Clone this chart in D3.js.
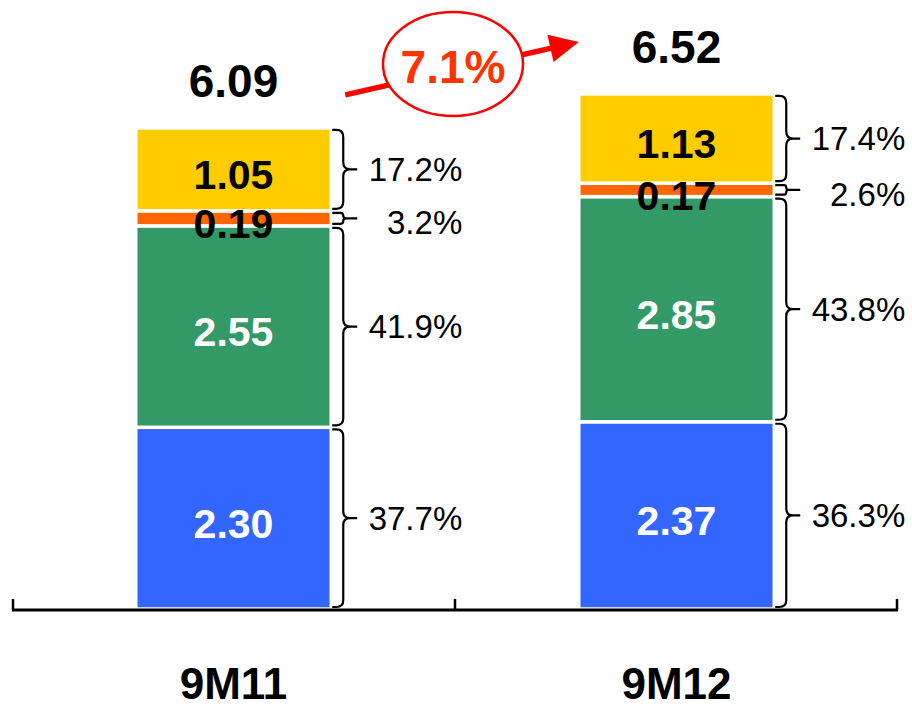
<!DOCTYPE html>
<html>
<head>
<meta charset="utf-8">
<script src="https://cdn.jsdelivr.net/npm/d3@7"></script>
<style>
  html, body { margin: 0; padding: 0; background: #fff; }
  svg { display: block; font-family: "Liberation Sans", Arial, sans-serif; }
</style>
</head>
<body>
<svg id="chart" width="912" height="709"></svg>
<script>
// ---- data ----
const categories = ["9M11", "9M12"];
const seriesNames = ["s1", "s2", "s3", "s4"]; // bottom -> top
const blueValues   = [2.30, 2.37];
const greenValues  = [2.55, 2.85];
const orangeValues = [0.19, 0.17];
const yellowValues = [1.05, 1.13];
const totals = [6.09, 6.52];
const bluePct   = ["37.7%", "36.3%"];
const greenPct  = ["41.9%", "43.8%"];
const orangePct = ["3.2%", "2.6%"];
const yellowPct = ["17.2%", "17.4%"];
const growthLabel = "7.1%";

const colors = ["#3366FF", "#339966", "#FF6600", "#FFCC00"];
const textColors = ["#fff", "#fff", "#000", "#000"];

const seriesValues = [blueValues, greenValues, orangeValues, yellowValues];
const seriesPct = [bluePct, greenPct, orangePct, yellowPct];

const table = categories.map((c, i) => {
  const row = { cat: c };
  seriesNames.forEach((s, k) => row[s] = seriesValues[k][i]);
  return row;
});
const stack = d3.stack().keys(seriesNames)(table);

const svg = d3.select("#chart");
const x = d3.scaleBand().domain(categories).range([12, 898]).padding(0);
const barW = x.bandwidth() * 0.4413;
const barX = c => x(c) + (x.bandwidth() - barW) / 2;
const y = d3.scaleLinear().domain([0, 609 / 79]).range([609, 0]);

// bars
stack.forEach((layer, k) => {
  svg.append("g").selectAll("rect").data(layer).join("rect")
    .attr("x", d => barX(d.data.cat))
    .attr("width", barW)
    .attr("y", d => y(d[1]))
    .attr("height", d => y(d[0]) - y(d[1]))
    .attr("fill", colors[k])
    .attr("stroke", "#fff")
    .attr("stroke-width", 3.5);
});

// braces + percentage labels
function bracePath(x0, y0, y1) {
  const xv = x0 + 11, xt = x0 + 25, ym = (y0 + y1) / 2;
  const r = Math.min(7, (y1 - y0) / 4);
  return `M${x0},${y0} L${xv - r},${y0} Q${xv},${y0} ${xv},${y0 + r} ` +
         `L${xv},${ym - r} Q${xv},${ym} ${xv + r},${ym} L${xt},${ym} ` +
         `M${xv + r},${ym} Q${xv},${ym} ${xv},${ym + r} ` +
         `L${xv},${y1 - r} Q${xv},${y1} ${xv - r},${y1} L${x0},${y1}`;
}
stack.forEach((layer, k) => {
  layer.forEach((d, i) => {
    const right = barX(d.data.cat) + barW;
    const top = y(d[1]) + 2, bot = y(d[0]) - 2;
    svg.append("path")
      .attr("d", bracePath(right + 1, top, bot))
      .attr("fill", "none").attr("stroke", "#000").attr("stroke-width", 2.2);
    const mid = (top + bot) / 2 + ((bot - top) < 25 ? 4 : 0);
    svg.append("text")
      .attr("x", right + 131).attr("y", mid + 11.8)
      .attr("text-anchor", "end")
      .attr("font-size", 33)
      .attr("fill", "#000")
      .text(seriesPct[k][i]);
  });
});

// value labels inside bars
stack.forEach((layer, k) => {
  svg.append("g").selectAll("text").data(layer).join("text")
    .attr("x", d => x(d.data.cat) + x.bandwidth() / 2)
    .attr("y", d => (y(d[0]) + y(d[1])) / 2 + 19.7)
    .attr("text-anchor", "middle")
    .attr("font-size", 41).attr("font-weight", "bold")
    .attr("fill", textColors[k])
    .text(d => d3.format(".2f")(d[1] - d[0]));
});

// totals
svg.append("g").selectAll("text").data(categories).join("text")
  .attr("x", c => x(c) + x.bandwidth() / 2)
  .attr("y", (c, i) => y(totals[i]) - 31)
  .attr("text-anchor", "middle")
  .attr("font-size", 46).attr("font-weight", "bold").attr("fill", "#000")
  .text((c, i) => d3.format(".2f")(totals[i]));

// axis
const axisY = 610;
svg.append("line").attr("x1", 12).attr("x2", 898).attr("y1", axisY).attr("y2", axisY)
  .attr("stroke", "#000").attr("stroke-width", 3);
const tickXs = categories.map(c => x(c)).concat([x(categories[categories.length - 1]) + x.bandwidth()]);
svg.append("g").selectAll("line").data(tickXs).join("line")
  .attr("x1", d => d === 12 ? d + 1 : (d === 898 ? d - 1 : d))
  .attr("x2", d => d === 12 ? d + 1 : (d === 898 ? d - 1 : d))
  .attr("y1", axisY).attr("y2", axisY - 11)
  .attr("stroke", "#000").attr("stroke-width", 2.5);

// category labels
svg.append("g").selectAll("text").data(categories).join("text")
  .attr("x", c => x(c) + x.bandwidth() / 2)
  .attr("y", 699)
  .attr("text-anchor", "middle")
  .attr("font-size", 44).attr("font-weight", "bold").attr("fill", "#000")
  .text(c => c);

// growth arrow
const c0 = categories[0], c1 = categories[1];
const sx = barX(c0) + barW + 14, sy = y(totals[0]) - 33;
const tx = barX(c1), ty = y(totals[1]) - 52;
const dx = tx - sx, dy = ty - sy, len = Math.hypot(dx, dy);
const ux = dx / len, uy = dy / len;
const headL = 29, headW = 14;
const bx = tx - ux * headL, by = ty - uy * headL;
svg.append("line").attr("x1", sx).attr("y1", sy).attr("x2", bx + ux * 2).attr("y2", by + uy * 2)
  .attr("stroke", "#FF0000").attr("stroke-width", 5.5);
svg.append("polygon")
  .attr("points", [[tx, ty], [bx - uy * headW, by + ux * headW], [bx + uy * headW, by - ux * headW]].map(p => p.join(",")).join(" "))
  .attr("fill", "#FF0000");
const ecx = (x(c0) + x(c1) + x.bandwidth()) / 2 - 2;
const ecy = (sy + ty) / 2 - 4.5;
svg.append("ellipse").attr("cx", ecx).attr("cy", ecy).attr("rx", 70).attr("ry", 52)
  .attr("fill", "#fff").attr("stroke", "#FF0000").attr("stroke-width", 2.5);
svg.append("text").attr("x", ecx).attr("y", ecy + 19)
  .attr("text-anchor", "middle")
  .attr("font-size", 46).attr("font-weight", "bold").attr("fill", "#FF3300")
  .text(growthLabel);
</script>
</body>
</html>
